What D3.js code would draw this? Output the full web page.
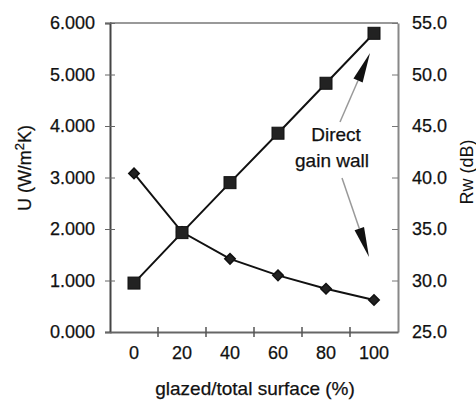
<!DOCTYPE html>
<html>
<head>
<meta charset="utf-8">
<script src="https://cdn.jsdelivr.net/npm/d3@7"></script>
<style>
  body { margin: 0; background: #fff; }
  text { font-family: "Liberation Sans", Arial, sans-serif; fill: #111; stroke: #111; stroke-width: 0.25px; }
</style>
</head>
<body>
<div id="chart"></div>
<script>
// data
const categories = ["0", "20", "40", "60", "80", "100"];
const uValues = [0.95, 1.93, 2.90, 3.86, 4.83, 5.80];     // squares, left axis
const rwValues = [40.4, 34.7, 32.1, 30.5, 29.2, 28.1];    // diamonds, right axis
const uTicks = [0, 1, 2, 3, 4, 5, 6];
const rwTicks = [25, 30, 35, 40, 45, 50, 55];

const width = 476, height = 403;
const plotLeft = 110, plotRight = 398, plotTop = 23, plotBottom = 332;

const svg = d3.select("#chart").append("svg")
  .attr("width", width)
  .attr("height", height);

const x = d3.scaleBand().domain(categories).range([plotLeft, plotRight]);
const yU = d3.scaleLinear().domain([0, 6]).range([plotBottom, plotTop]);
const yRw = d3.scaleLinear().domain([25, 55]).range([plotBottom, plotTop]);

// frame
svg.append("line").attr("x1", plotLeft).attr("x2", plotRight).attr("y1", plotTop).attr("y2", plotTop)
  .attr("stroke", "#777").attr("stroke-width", 1.5);

// left axis
const leftAxis = svg.append("g")
  .attr("transform", `translate(${plotLeft},0)`)
  .call(d3.axisLeft(yU).tickValues(uTicks).tickFormat(d3.format(".3f")).tickSize(5).tickPadding(10));
leftAxis.select(".domain").attr("stroke", "#444").attr("stroke-width", 2);
leftAxis.selectAll(".tick line").attr("x2", 5).attr("x1", -5).attr("stroke", "#666");
leftAxis.selectAll("text").style("font-size", "18px").attr("fill", "#111");

// right axis
const rightAxis = svg.append("g")
  .attr("transform", `translate(${plotRight},0)`)
  .call(d3.axisRight(yRw).tickValues(rwTicks).tickFormat(d3.format(".1f")).tickSize(0).tickPadding(14));
rightAxis.select(".domain").attr("stroke", "#888").attr("stroke-width", 2);
rightAxis.selectAll(".tick line").attr("x2", -6).attr("stroke", "#777");
rightAxis.selectAll("text").style("font-size", "18px").attr("fill", "#111");

// bottom axis
const bottomAxis = svg.append("g")
  .attr("transform", `translate(0,${plotBottom})`)
  .call(d3.axisBottom(x).tickSize(0).tickPadding(14));
bottomAxis.select(".domain").attr("stroke", "#666").attr("stroke-width", 2);
bottomAxis.selectAll("text").style("font-size", "18px").attr("fill", "#111");
// tick marks sit between the categories
bottomAxis.selectAll(".sep")
  .data(categories.slice(1))
  .join("line")
    .attr("x1", d => x(d)).attr("x2", d => x(d))
    .attr("y1", -5).attr("y2", 5)
    .attr("stroke", "#555").attr("stroke-width", 1.5);

// axis titles
svg.append("text")
  .attr("x", 255).attr("y", 395)
  .attr("text-anchor", "middle")
  .style("font-size", "19px")
  .text("glazed/total surface (%)");

const uTitle = svg.append("text")
  .attr("transform", "translate(31,168) rotate(-90)")
  .attr("text-anchor", "middle")
  .style("font-size", "18px");
uTitle.append("tspan").text("U (W/m");
uTitle.append("tspan").attr("dy", -7).style("font-size", "13px").text("2");
uTitle.append("tspan").attr("dy", 7).text("K)");

svg.append("text")
  .attr("transform", "translate(473,172) rotate(-90)")
  .attr("text-anchor", "middle")
  .style("font-size", "18px")
  .style("stroke-width", 0)
  .attr("fill", "#333")
  .text("Rw (dB)");

const cx = d => x(d) + x.bandwidth() / 2;

// U line with squares
const lineU = d3.line().x((d, i) => cx(categories[i])).y(d => yU(d));
svg.append("path").datum(uValues)
  .attr("d", lineU).attr("fill", "none").attr("stroke", "#111").attr("stroke-width", 2);

// Rw line with diamonds
const lineRw = d3.line().x((d, i) => cx(categories[i])).y(d => yRw(d));
svg.append("path").datum(rwValues)
  .attr("d", lineRw).attr("fill", "none").attr("stroke", "#111").attr("stroke-width", 2);

svg.selectAll(".diamond")
  .data(rwValues)
  .join("path")
    .attr("class", "diamond")
    .attr("d", d3.symbol(d3.symbolDiamond2, 70))
    .attr("transform", (d, i) => `translate(${cx(categories[i])},${yRw(d)})`)
    .attr("fill", "#222").attr("stroke", "#111").attr("stroke-width", 1.5);

svg.selectAll(".square")
  .data(uValues)
  .join("rect")
    .attr("class", "square")
    .attr("x", (d, i) => cx(categories[i]) - 6)
    .attr("y", d => yU(d) - 6)
    .attr("width", 12).attr("height", 12)
    .attr("fill", "#222").attr("stroke", "#111").attr("stroke-width", 1);

// annotation
svg.append("text").attr("x", 336).attr("y", 141).attr("text-anchor", "middle")
  .style("font-size", "19px").text("Direct");
svg.append("text").attr("x", 332).attr("y", 167).attr("text-anchor", "middle")
  .style("font-size", "19px").text("gain wall");

function arrow(x1, y1, x2, y2) {
  const ang = Math.atan2(y2 - y1, x2 - x1);
  const len = 30, half = 5;
  const bx = x2 - len * Math.cos(ang), by = y2 - len * Math.sin(ang);
  svg.append("line").attr("x1", x1).attr("y1", y1).attr("x2", bx).attr("y2", by)
    .attr("stroke", "#999").attr("stroke-width", 1.5);
  const px = -Math.sin(ang) * half, py = Math.cos(ang) * half;
  svg.append("path")
    .attr("d", `M${x2},${y2}L${bx + px},${by + py}L${bx - px},${by - py}Z`)
    .attr("fill", "#111");
}
arrow(340, 122, 370, 53);
arrow(342, 178, 369, 257);
</script>
</body>
</html>
